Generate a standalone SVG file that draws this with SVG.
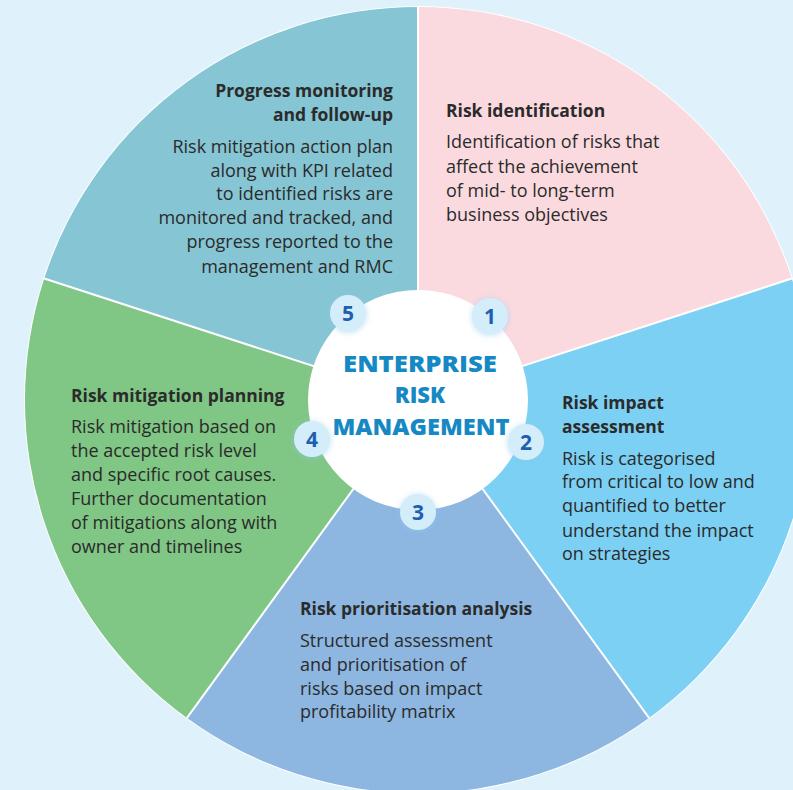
<svg xmlns="http://www.w3.org/2000/svg" width="793" height="790" viewBox="0 0 793 790">
<defs>
<style>
.t{font-family:"Open Sans","Liberation Sans",sans-serif;font-size:17.5px;font-weight:700;fill:#2b2b2b}
.b{font-family:"Open Sans","Liberation Sans",sans-serif;font-size:18px;font-weight:400;fill:#2b2b2b}
.r{text-anchor:end}
.c{font-family:"Open Sans","Liberation Sans",sans-serif;font-size:22px;font-weight:800;fill:#1688c4;text-anchor:middle}
.n{font-family:"Open Sans","Liberation Sans",sans-serif;font-size:21px;font-weight:700;fill:#1e5fae;text-anchor:middle}
.badge{fill:#d4edfb;filter:url(#glow)}
.div{stroke:#ffffff;stroke-width:2;fill:none}
</style>
<filter id="glow" x="-50%" y="-50%" width="200%" height="200%">
<feDropShadow dx="0" dy="1" stdDeviation="3" flood-color="#8fc9ec" flood-opacity="0.6"/>
</filter>
</defs>
<rect width="793" height="790" fill="#dff2fb"/>
<circle cx="418" cy="400" r="394" fill="#ffffff"/>
<g id="seg1">
<path d="M418,400 L418,7 A393,393 0 0 1 791.77,278.56 Z" fill="#fadadf"/>
</g>
<g id="seg2">
<path d="M418,400 L791.77,278.56 A393,393 0 0 1 649,717.94 Z" fill="#7bd0f3"/>
</g>
<g id="seg3">
<path d="M418,400 L649,717.94 A393,393 0 0 1 187,717.94 Z" fill="#8db6e1"/>
</g>
<g id="seg4">
<path d="M418,400 L187,717.94 A393,393 0 0 1 44.23,278.56 Z" fill="#80c684"/>
</g>
<g id="seg5">
<path d="M418,400 L44.23,278.56 A393,393 0 0 1 418,7 Z" fill="#86c5d3"/>
</g>
<g id="dividers">
<line class="div" x1="418" y1="400" x2="418" y2="7"/>
<line class="div" x1="418" y1="400" x2="791.77" y2="278.56"/>
<line class="div" x1="418" y1="400" x2="649" y2="717.94"/>
<line class="div" x1="418" y1="400" x2="187" y2="717.94"/>
<line class="div" x1="418" y1="400" x2="44.23" y2="278.56"/>
</g>
<g id="text1">
<text class="t" x="446" y="117">Risk identification</text>
<text class="b" x="446" y="148">Identification of risks that</text>
<text class="b" x="446" y="173">affect the achievement</text>
<text class="b" x="446" y="197">of mid- to long-term</text>
<text class="b" x="446" y="221">business objectives</text>
</g>
<g id="text2">
<text class="t" x="562" y="409">Risk impact</text>
<text class="t" x="562" y="433">assessment</text>
<text class="b" x="562" y="465">Risk is categorised</text>
<text class="b" x="562" y="488">from critical to low and</text>
<text class="b" x="562" y="512">quantified to better</text>
<text class="b" x="562" y="537">understand the impact</text>
<text class="b" x="562" y="560">on strategies</text>
</g>
<g id="text3">
<text class="t" x="300" y="615">Risk prioritisation analysis</text>
<text class="b" x="300" y="647">Structured assessment</text>
<text class="b" x="300" y="671">and prioritisation of</text>
<text class="b" x="300" y="695">risks based on impact</text>
<text class="b" x="300" y="718">profitability matrix</text>
</g>
<g id="text4">
<text class="t" x="71" y="402">Risk mitigation planning</text>
<text class="b" x="71" y="433">Risk mitigation based on</text>
<text class="b" x="71" y="457">the accepted risk level</text>
<text class="b" x="71" y="481">and specific root causes.</text>
<text class="b" x="71" y="505">Further documentation</text>
<text class="b" x="71" y="529">of mitigations along with</text>
<text class="b" x="71" y="553">owner and timelines</text>
</g>
<g id="text5">
<text class="t r" x="393" y="97">Progress monitoring</text>
<text class="t r" x="393" y="121">and follow-up</text>
<text class="b r" x="393" y="153">Risk mitigation action plan</text>
<text class="b r" x="393" y="177">along with KPI related</text>
<text class="b r" x="393" y="200">to identified risks are</text>
<text class="b r" x="393" y="224">monitored and tracked, and</text>
<text class="b r" x="393" y="248">progress reported to the</text>
<text class="b r" x="393" y="273">management and RMC</text>
</g>
<g id="center">
<circle cx="418" cy="400" r="110" fill="#ffffff"/>
<text class="c" x="420" y="372" textLength="154" lengthAdjust="spacingAndGlyphs">ENTERPRISE</text>
<text class="c" x="420" y="403">RISK</text>
<text class="c" x="421" y="435" textLength="177" lengthAdjust="spacingAndGlyphs">MANAGEMENT</text>
</g>
<g id="badge1"><circle class="badge" cx="490" cy="316" r="18"/><text class="n" x="490" y="324">1</text></g>
<g id="badge2"><circle class="badge" cx="526" cy="442" r="18"/><text class="n" x="526" y="450">2</text></g>
<g id="badge3"><circle class="badge" cx="418" cy="512" r="18"/><text class="n" x="418" y="520">3</text></g>
<g id="badge4"><circle class="badge" cx="312" cy="439" r="18"/><text class="n" x="312" y="447">4</text></g>
<g id="badge5"><circle class="badge" cx="348" cy="313" r="18"/><text class="n" x="348" y="321">5</text></g>
</svg>
